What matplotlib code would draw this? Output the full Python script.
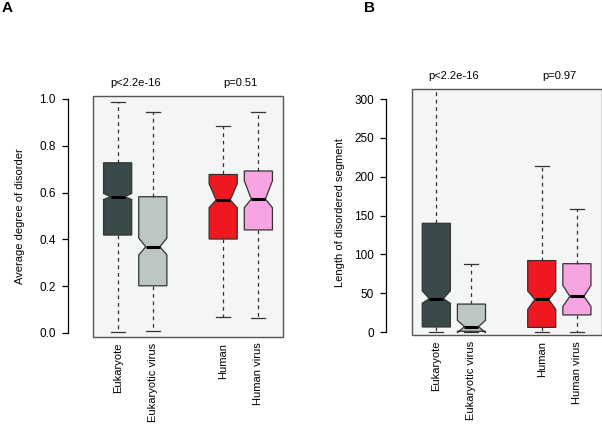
import numpy as np
import matplotlib.pyplot as plt
from matplotlib.patches import Rectangle

plt.rcParams['font.family'] = ['Liberation Sans', 'DejaVu Sans']

groups = ['Eukaryote', 'Eukaryotic virus', 'Human', 'Human virus']
positions = [1, 2, 4, 5]
colors = ['#3a4a4a', '#bcc6c4', '#f01820', '#f7a4e2']

# panel A: average degree of disorder
a_whislo = [0.003, 0.009, 0.066, 0.063]
a_q1 = [0.418, 0.201, 0.401, 0.440]
a_med = [0.582, 0.368, 0.568, 0.572]
a_q3 = [0.727, 0.582, 0.677, 0.692]
a_whishi = [0.988, 0.946, 0.884, 0.946]
a_cilo = [0.570, 0.333, 0.535, 0.535]
a_cihi = [0.596, 0.405, 0.637, 0.650]
a_pvals = ['p<2.2e-16', 'p=0.51']

# panel B: length of disordered segment
b_whislo = [0, 0, 0, 0]
b_q1 = [6.5, 1, 6, 22]
b_med = [43, 7, 42, 46]
b_q3 = [140, 36, 92, 88]
b_whishi = [400, 88, 214, 158]
b_cilo = [37, -1, 29, 33]
b_cihi = [53, 15, 53, 60]
b_pvals = ['p<2.2e-16', 'p=0.97']


def make_stats(whislo, q1, med, q3, whishi, cilo, cihi):
    stats = []
    for i in range(len(groups)):
        stats.append({'whislo': whislo[i], 'q1': q1[i], 'med': med[i], 'q3': q3[i],
                      'whishi': whishi[i], 'cilo': cilo[i], 'cihi': cihi[i],
                      'fliers': [], 'label': groups[i]})
    return stats


def draw_panel(ax, stats, ylim, yticks, yticklabels, ylabel, pvals, ptext_y,
               letter, letter_x, offset, label_x):
    ax.set_facecolor('#f4f6f6')
    bp = ax.bxp(stats, positions=positions, widths=0.8, shownotches=True, patch_artist=True,
                showfliers=False, capwidths=0.4,
                boxprops=dict(edgecolor='#333333', linewidth=0.9),
                whiskerprops=dict(color='#333333', linewidth=0.9, linestyle=(0, (3, 3))),
                capprops=dict(color='#333333', linewidth=0.9),
                medianprops=dict(color='black', linewidth=2.2))
    for patch, c in zip(bp['boxes'], colors):
        patch.set_facecolor(c)

    ax.set_xlim(0.3, 5.7)
    ax.set_ylim(*ylim)

    # box frame around the plot region
    for s in ['top', 'right', 'bottom']:
        ax.spines[s].set_visible(False)
    ax.add_patch(Rectangle((0, 0), 1, 1, transform=ax.transAxes, fill=False,
                           edgecolor='#555555', linewidth=1.0, clip_on=False, zorder=6))

    # detached y axis like R
    ax.spines['left'].set_position(('outward', offset))
    ax.spines['left'].set_bounds(yticks[0], yticks[-1])
    ax.spines['left'].set_linewidth(0.9)
    ax.set_yticks(yticks)
    ax.set_yticklabels(yticklabels)
    ax.tick_params(axis='y', length=4.3, width=0.9, labelsize=8.5, pad=4.5)

    ax.set_xticks(positions)
    ax.set_xticklabels(groups, rotation=90, va='top', ha='center')
    ax.tick_params(axis='x', length=0, labelsize=8, pad=4)

    ax.set_ylabel(ylabel, fontsize=8)
    ax.yaxis.set_label_coords(label_x, 0.5)

    ax.text(1.5, ptext_y, pvals[0], ha='center', va='center', fontsize=8, clip_on=False)
    ax.text(4.5, ptext_y, pvals[1], ha='center', va='center', fontsize=8, clip_on=False)

    ax.figure.text(letter_x, 1 - 8 / 425, letter, fontsize=11, fontweight='bold',
                   ha='left', va='center')


fig = plt.figure(figsize=(6.02, 4.25), dpi=100)
ax1 = fig.add_axes([93 / 602, 1 - 337 / 425, 190 / 602, 241.3 / 425])
ax2 = fig.add_axes([411.7 / 602, 1 - 335.3 / 425, 189.8 / 602, 246 / 425])

draw_panel(ax1, make_stats(a_whislo, a_q1, a_med, a_q3, a_whishi, a_cilo, a_cihi),
           (-0.018, 1.014), [0, 0.2, 0.4, 0.6, 0.8, 1.0],
           ['0.0', '0.2', '0.4', '0.6', '0.8', '1.0'],
           'Average degree of disorder', a_pvals, 1.068, 'A', 2 / 602, 18, -0.358)

draw_panel(ax2, make_stats(b_whislo, b_q1, b_med, b_q3, b_whishi, b_cilo, b_cihi),
           (-4.2, 312.5), [0, 50, 100, 150, 200, 250, 300],
           ['0', '50', '100', '150', '200', '250', '300'],
           'Length of disordered segment', b_pvals, 329.5, 'B', 364 / 602, 18.5, -0.351)

fig.savefig('out.png', dpi=100)
